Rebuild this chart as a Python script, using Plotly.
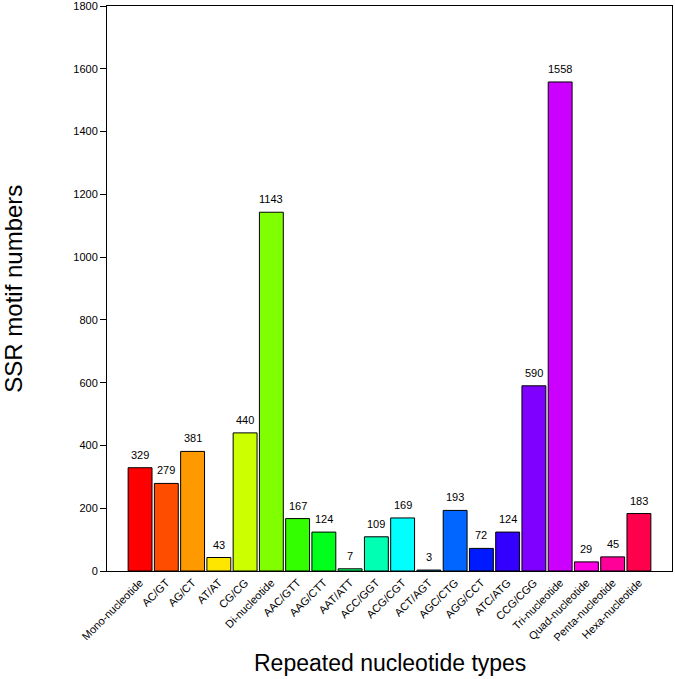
import plotly.graph_objects as go

categories = ["Mono-nucleotide", "AC/GT", "AG/CT", "AT/AT", "CG/CG", "Di-nucleotide",
              "AAC/GTT", "AAG/CTT", "AAT/ATT", "ACC/GGT", "ACG/CGT", "ACT/AGT",
              "AGC/CTG", "AGG/CCT", "ATC/ATG", "CCG/CGG", "Tri-nucleotide",
              "Quad-nucleotide", "Penta-nucleotide", "Hexa-nucleotide"]
values = [329, 279, 381, 43, 440, 1143, 167, 124, 7, 109, 169, 3, 193, 72, 124, 590,
          1558, 29, 45, 183]
colors = ["#FF0000", "#FF4D00", "#FF9900", "#FFE600", "#CCFF00", "#80FF00", "#33FF00",
          "#00FF1A", "#00FF66", "#00FFB3", "#00FFFF", "#00B3FF", "#0066FF", "#001AFF",
          "#3300FF", "#8000FF", "#CC00FF", "#FF00E6", "#FF0099", "#FF004D"]
y_ticks = [0, 200, 400, 600, 800, 1000, 1200, 1400, 1600, 1800]

FONT = "Liberation Sans, Arial, Helvetica, sans-serif"

fig = go.Figure()
fig.add_trace(go.Bar(
    x=categories, y=values,
    marker=dict(color=colors, line=dict(color="black", width=1)),
    width=0.91,
    hoverinfo="x+y",
))

for c, v in zip(categories, values):
    fig.add_annotation(x=c, y=v, text=str(v), showarrow=False, yanchor="bottom",
                       yshift=5, font=dict(size=11, color="black", family=FONT))

fig.add_annotation(xref="paper", yref="paper", x=0.5, y=-0.163, yanchor="middle",
                   text="Repeated nucleotide types", showarrow=False,
                   font=dict(size=23, color="black", family=FONT))
fig.add_annotation(xref="paper", yref="paper", x=-0.166, y=0.5, xanchor="center",
                   yanchor="middle", textangle=-90,
                   text="SSR motif numbers", showarrow=False,
                   font=dict(size=24, color="black", family=FONT))

fig.update_layout(
    width=675, height=679,
    margin=dict(l=107, r=3, t=6, b=108),
    paper_bgcolor="white", plot_bgcolor="white",
    showlegend=False,
    font=dict(family=FONT, color="black", size=11),
    xaxis=dict(
        range=[-1.26, 20.26], tickangle=-45, showgrid=False, ticks="",
        showline=True, linecolor="black", linewidth=1, mirror=True,
        tickfont=dict(size=11, color="black"),
        automargin=False,
    ),
    yaxis=dict(
        range=[0, 1800], tickvals=y_ticks, showgrid=False, zeroline=False,
        ticks="outside", ticklen=6, tickcolor="black", tickwidth=1,
        showline=True, linecolor="black", linewidth=1, mirror=True,
        tickfont=dict(size=11, color="black"),
        ticklabeloverflow="allow",
        automargin=False,
    ),
)

fig.write_html("out.html", config={"displayModeBar": False},
               post_script="document.body.style.margin='0';")
